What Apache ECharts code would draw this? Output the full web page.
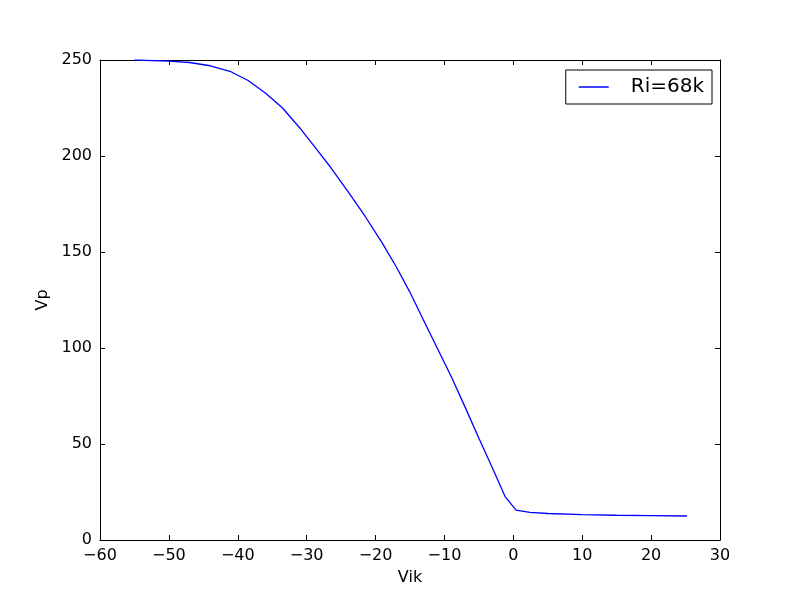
<!DOCTYPE html>
<html>
<head>
<meta charset="utf-8">
<script src="https://cdn.jsdelivr.net/npm/echarts@6/dist/echarts.min.js"></script>
<style>
    html, body { margin: 0; padding: 0; background: #fff; }
    #chart { width: 800px; height: 600px; }
</style>
</head>
<body>
<div id="chart"></div>
<script>
// Vik values (x) and Vp values (y)
const vik = [-55, -50, -47, -44, -41, -38.5, -36, -33.5, -31, -29, -26.5, -24, -21.5, -19, -17, -15, -13, -11, -9, -7, -5, -3, -1.2, 0.4, 2.4, 5, 10, 15, 20, 25.2];
const vp = [250, 249.4, 248.7, 247.0, 243.9, 239.3, 232.8, 225.0, 214.6, 205.5, 194.0, 181.5, 168.5, 154.5, 142.3, 129.0, 114.2, 99.6, 85.0, 69.2, 53.0, 37.2, 22.6, 15.6, 14.4, 13.8, 13.2, 12.9, 12.7, 12.5];
const seriesName = 'Ri=68k';

const font = 'DejaVu Sans';
const chart = echarts.init(document.getElementById('chart'));

const points = vik.map((x, i) => [x, vp[i]]);

const baseAxis = {
    axisLine: { show: true, onZero: false, lineStyle: { color: '#000', width: 1 } },
    axisTick: { show: true, inside: true, length: 5, lineStyle: { color: '#000' } },
    splitLine: { show: false },
};

chart.setOption({
    animation: false,
    backgroundColor: '#fff',
    grid: { left: 100, right: 80, top: 60, bottom: 60 },
    legend: {
        right: 88,
        top: 70,
        orient: 'vertical',
        borderColor: '#000',
        borderWidth: 1,
        borderRadius: 0,
        padding: [7, 8, 7, 13],
        itemWidth: 30,
        itemHeight: 1.5,
        icon: 'rect',
        textStyle: { fontFamily: font, fontSize: 20, color: '#000', padding: [0, 0, 0, 17] },
        data: [seriesName]
    },
    xAxis: [
        Object.assign({}, baseAxis, {
            type: 'value', min: -60, max: 30, interval: 10, position: 'bottom',
            name: 'Vik', nameLocation: 'middle', nameGap: 30,
            nameTextStyle: { fontFamily: font, fontSize: 16, color: '#000' },
            axisLabel: { fontFamily: font, fontSize: 16, color: '#000', margin: 8,
                formatter: v => String(v).replace('-', '\u2212') }
        }),
        Object.assign({}, baseAxis, {
            type: 'value', min: -60, max: 30, interval: 10, position: 'top',
            axisLabel: { show: false }
        })
    ],
    yAxis: [
        Object.assign({}, baseAxis, {
            type: 'value', min: 0, max: 250, interval: 50, position: 'left',
            name: 'Vp', nameLocation: 'middle', nameGap: 48,
            nameTextStyle: { fontFamily: font, fontSize: 16, color: '#000' },
            axisLabel: { fontFamily: font, fontSize: 16, color: '#000', margin: 8 }
        }),
        Object.assign({}, baseAxis, {
            type: 'value', min: 0, max: 250, interval: 50, position: 'right',
            axisLabel: { show: false }
        })
    ],
    series: [{
        name: seriesName,
        type: 'line',
        data: points,
        symbol: 'none',
        smooth: false,
        lineStyle: { color: '#0000ff', width: 1.3 },
        itemStyle: { color: '#0000ff' }
    }]
});
</script>
</body>
</html>
